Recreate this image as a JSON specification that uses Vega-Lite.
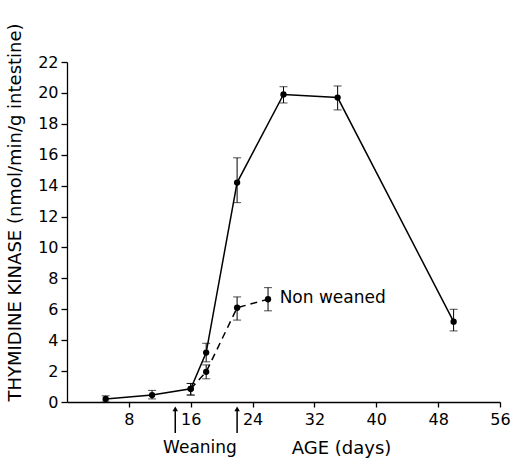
{
  "$schema": "https://vega.github.io/schema/vega-lite/v6.json",
  "autosize": "none",
  "padding": {"left": 67, "top": 62, "right": 16, "bottom": 64},
  "width": 433,
  "height": 340,
  "background": "white",
  "config": {
    "view": {"stroke": null},
    "font": "DejaVu Sans",
    "axis": {"labelFont": "DejaVu Sans", "titleFont": "DejaVu Sans", "labelColor": "black", "titleColor": "black", "domainColor": "black", "tickColor": "black", "grid": false, "labelFontSize": 16, "titleFontSize": 18, "titleFontWeight": "normal", "domainWidth": 1.3, "tickWidth": 1.3, "labelOverlap": false, "labelFlush": false}
  },
  "datasets": {
    "pts": [
      {"series": "weaned", "age": 5, "tk": 0.2, "lo": 0.0, "hi": 0.4},
      {"series": "weaned", "age": 11, "tk": 0.45, "lo": 0.2, "hi": 0.75},
      {"series": "weaned", "age": 16, "tk": 0.85, "lo": 0.45, "hi": 1.2},
      {"series": "weaned", "age": 18, "tk": 3.2, "lo": 2.6, "hi": 3.8},
      {"series": "weaned", "age": 22, "tk": 14.2, "lo": 12.9, "hi": 15.8},
      {"series": "weaned", "age": 28, "tk": 19.9, "lo": 19.35, "hi": 20.4},
      {"series": "weaned", "age": 35, "tk": 19.7, "lo": 18.9, "hi": 20.45},
      {"series": "weaned", "age": 50, "tk": 5.2, "lo": 4.6, "hi": 6.0},
      {"series": "non weaned", "age": 16, "tk": 0.85, "lo": 0.45, "hi": 1.2},
      {"series": "non weaned", "age": 18, "tk": 1.95, "lo": 1.5, "hi": 2.4},
      {"series": "non weaned", "age": 22, "tk": 6.1, "lo": 5.3, "hi": 6.8},
      {"series": "non weaned", "age": 26, "tk": 6.65, "lo": 5.9, "hi": 7.4}
    ],
    "arrows": [
      {"age": 14, "top": -0.45, "bottom": -2.0},
      {"age": 22, "top": -0.45, "bottom": -2.0}
    ],
    "series_label": [
      {"age": 27.5, "tk": 6.7, "text": "Non weaned"}
    ],
    "weaning_label": [
      {"age": 17.2, "tk": -2.98, "text": "Weaning"}
    ]
  },
  "encoding": {
    "x": {"type": "quantitative", "scale": {"domain": [0, 56], "nice": false, "zero": false}, "axis": {"values": [8, 16, 24, 32, 40, 48, 56], "tickSize": 5, "labelPadding": 4, "title": "AGE (days)", "titleX": 274, "titleY": 46, "titleAnchor": null, "titleAlign": "center", "titleBaseline": "middle"}},
    "y": {"type": "quantitative", "scale": {"domain": [0, 22], "nice": false, "zero": false}, "axis": {"values": [0, 2, 4, 6, 8, 10, 12, 14, 16, 18, 20, 22], "tickCount": 12, "tickSize": 6, "labelPadding": 3, "title": "THYMIDINE KINASE (nmol/min/g intestine)", "titleX": -52, "titleY": 150, "titleAlign": "center", "titleBaseline": "middle", "titleAngle": -90}}
  },
  "layer": [
    {
      "data": {"name": "pts"},
      "transform": [{"filter": "datum.series === 'weaned'"}],
      "mark": {"type": "line", "color": "black", "strokeWidth": 1.5},
      "encoding": {
        "x": {"field": "age", "type": "quantitative"},
        "y": {"field": "tk", "type": "quantitative"}
      }
    },
    {
      "data": {"name": "pts"},
      "transform": [{"filter": "datum.series === 'non weaned'"}],
      "mark": {"type": "line", "color": "black", "strokeWidth": 1.5, "strokeDash": [7, 5]},
      "encoding": {
        "x": {"field": "age", "type": "quantitative"},
        "y": {"field": "tk", "type": "quantitative"}
      }
    },
    {
      "data": {"name": "pts"},
      "mark": {"type": "rule", "color": "black", "strokeWidth": 1},
      "encoding": {
        "x": {"field": "age", "type": "quantitative"},
        "y": {"field": "lo", "type": "quantitative"},
        "y2": {"field": "hi"}
      }
    },
    {
      "data": {"name": "pts"},
      "mark": {"type": "tick", "color": "black", "orient": "horizontal", "size": 8, "thickness": 1},
      "encoding": {
        "x": {"field": "age", "type": "quantitative"},
        "y": {"field": "lo", "type": "quantitative"}
      }
    },
    {
      "data": {"name": "pts"},
      "mark": {"type": "tick", "color": "black", "orient": "horizontal", "size": 8, "thickness": 1},
      "encoding": {
        "x": {"field": "age", "type": "quantitative"},
        "y": {"field": "hi", "type": "quantitative"}
      }
    },
    {
      "data": {"name": "pts"},
      "mark": {"type": "point", "filled": true, "color": "black", "size": 40, "opacity": 1},
      "encoding": {
        "x": {"field": "age", "type": "quantitative"},
        "y": {"field": "tk", "type": "quantitative"}
      }
    },
    {
      "data": {"name": "arrows"},
      "mark": {"type": "rule", "color": "black", "strokeWidth": 1.5, "clip": false},
      "encoding": {
        "x": {"field": "age", "type": "quantitative"},
        "y": {"field": "top", "type": "quantitative"},
        "y2": {"field": "bottom"}
      }
    },
    {
      "data": {"name": "arrows"},
      "mark": {"type": "point", "shape": "triangle-up", "filled": true, "color": "black", "size": 30, "opacity": 1, "clip": false},
      "encoding": {
        "x": {"field": "age", "type": "quantitative"},
        "y": {"field": "top", "type": "quantitative"}
      }
    },
    {
      "data": {"name": "series_label"},
      "mark": {"type": "text", "color": "black", "fontSize": 17, "baseline": "middle", "align": "left", "clip": false},
      "encoding": {
        "x": {"field": "age", "type": "quantitative"},
        "y": {"field": "tk", "type": "quantitative"},
        "text": {"field": "text"}
      }
    },
    {
      "data": {"name": "weaning_label"},
      "mark": {"type": "text", "color": "black", "fontSize": 17, "baseline": "middle", "align": "center", "clip": false},
      "encoding": {
        "x": {"field": "age", "type": "quantitative"},
        "y": {"field": "tk", "type": "quantitative"},
        "text": {"field": "text"}
      }
    }
  ]
}
